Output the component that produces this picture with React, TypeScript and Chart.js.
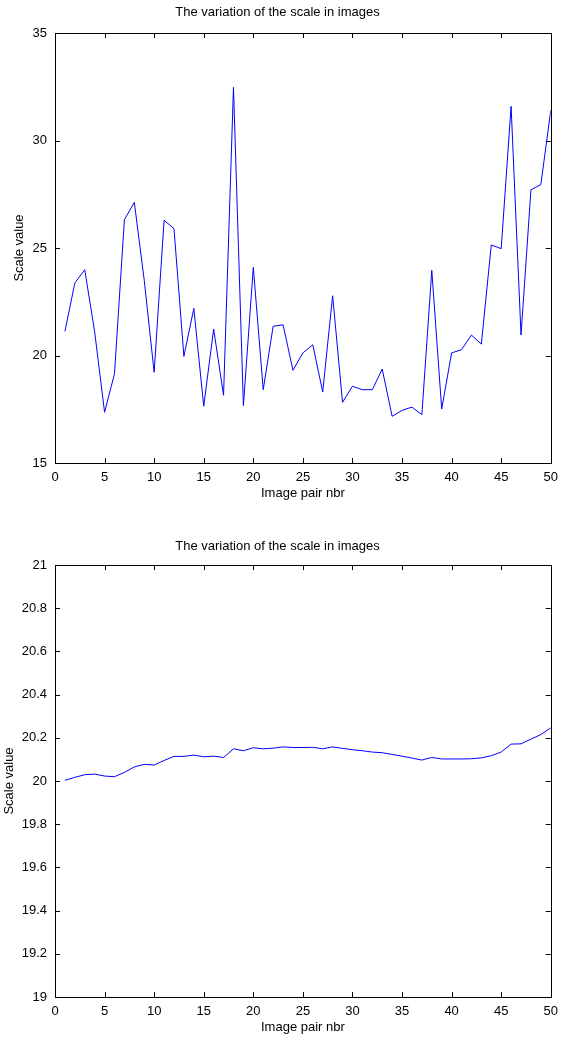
import React, { useEffect, useRef } from "react";
import { Chart, registerables } from "chart.js";

Chart.register(...registerables);

const chartTitle = "The variation of the scale in images";
const xTitle = "Image pair nbr";
const yTitle = "Scale value";

const imagePairs = [
  1, 2, 3, 4, 5, 6, 7, 8, 9, 10, 11, 12, 13, 14, 15, 16, 17, 18, 19, 20, 21, 22, 23, 24, 25,
  26, 27, 28, 29, 30, 31, 32, 33, 34, 35, 36, 37, 38, 39, 40, 41, 42, 43, 44, 45, 46, 47, 48, 49, 50,
];

const scaleValuesTop = [
  21.12, 23.37, 23.99, 21.1, 17.36, 19.15, 26.32, 27.12, 23.5, 19.22,
  26.29, 25.9, 19.96, 22.19, 17.64, 21.23, 18.15, 32.47, 17.67, 24.1,
  18.41, 21.36, 21.43, 19.31, 20.12, 20.5, 18.3, 22.78, 17.82, 18.57,
  18.41, 18.41, 19.37, 17.17, 17.45, 17.6, 17.25, 23.96, 17.51, 20.12,
  20.27, 20.95, 20.53, 25.14, 24.97, 31.59, 20.95, 27.71, 27.95, 31.4,
];

const scaleValuesBottom = [
  20.003, 20.017, 20.029, 20.032, 20.023, 20.02, 20.04, 20.065, 20.077, 20.074,
  20.095, 20.114, 20.114, 20.12, 20.112, 20.115, 20.109, 20.149, 20.14, 20.154,
  20.149, 20.152, 20.158, 20.155, 20.155, 20.156, 20.149, 20.158, 20.151, 20.145,
  20.14, 20.134, 20.131, 20.123, 20.115, 20.106, 20.097, 20.109, 20.102, 20.102,
  20.102, 20.103, 20.107, 20.117, 20.134, 20.171, 20.172, 20.194, 20.215, 20.246,
];

const xTicksRange = { min: 0, max: 50, step: 5 };
const yRangeTop = { min: 15, max: 35, step: 5 };
const yRangeBottom = { min: 19, max: 21, step: 0.2 };

const FONT = "'Liberation Sans', Arial, Helvetica, sans-serif";

const frameTicksPlugin = {
  id: "frameTicks",
  afterDatasetsDraw(chart: any) {
    const { ctx, chartArea } = chart;
    const { left, right, top, bottom } = chartArea;
    const len = 5;
    ctx.save();
    ctx.strokeStyle = "#000";
    ctx.lineWidth = 1;
    ctx.beginPath();
    const xs = chart.scales.x;
    xs.ticks.forEach((t: any) => {
      const px = Math.round(xs.getPixelForValue(t.value)) + 0.5;
      ctx.moveTo(px, bottom);
      ctx.lineTo(px, bottom - len);
      ctx.moveTo(px, top);
      ctx.lineTo(px, top + len);
    });
    const ys = chart.scales.y;
    ys.ticks.forEach((t: any) => {
      const py = Math.round(ys.getPixelForValue(t.value)) + 0.5;
      ctx.moveTo(left, py);
      ctx.lineTo(left + len, py);
      ctx.moveTo(right, py);
      ctx.lineTo(right - len, py);
    });
    ctx.stroke();
    ctx.strokeRect(Math.round(left) + 0.5, Math.round(top) + 0.5, Math.round(right - left), Math.round(bottom - top));
    ctx.restore();
  },
};

type PanelProps = {
  values: number[];
  yRange: { min: number; max: number; step: number };
  titlePadTop: number;
  titlePadBottom: number;
  xAxisHeight: number;
  xTitlePadBottom: number;
  yTitlePad: number;
};

function Panel(props: PanelProps) {
  const ref = useRef<HTMLCanvasElement | null>(null);
  useEffect(() => {
    if (!ref.current) return;
    const chart = new Chart(ref.current, {
      type: "line",
      data: {
        datasets: [
          {
            data: imagePairs.map((x, i) => ({ x, y: props.values[i] })),
            borderColor: "#0000ff",
            borderWidth: 1,
            pointRadius: 0,
            tension: 0,
            fill: false,
          },
        ],
      },
      options: {
        responsive: false,
        animation: false,
        devicePixelRatio: 1,
        layout: { padding: { left: 0, right: 10, top: 0, bottom: 0 } },
        plugins: {
          legend: { display: false },
          tooltip: { enabled: false },
          title: {
            display: true,
            text: chartTitle,
            color: "#000",
            font: { family: FONT, size: 13, weight: "normal" },
            padding: { top: props.titlePadTop, bottom: props.titlePadBottom },
          },
        },
        scales: {
          x: {
            type: "linear",
            min: xTicksRange.min,
            max: xTicksRange.max,
            grid: { display: false, drawTicks: false },
            border: { display: false },
            ticks: {
              stepSize: xTicksRange.step,
              color: "#000",
              padding: 7,
              maxRotation: 0,
              font: { family: FONT, size: 13 },
            },
            title: {
              display: true,
              text: xTitle,
              color: "#000",
              font: { family: FONT, size: 13 },
              padding: { top: 0, bottom: props.xTitlePadBottom },
            },
            afterFit: (s: any) => {
              s.height = props.xAxisHeight;
            },
          },
          y: {
            type: "linear",
            min: props.yRange.min,
            max: props.yRange.max,
            grid: { display: false, drawTicks: false },
            border: { display: false },
            ticks: {
              stepSize: props.yRange.step,
              color: "#000",
              padding: 8,
              font: { family: FONT, size: 13 },
              callback: (v: any) => String(Math.round(Number(v) * 10) / 10),
            },
            title: {
              display: true,
              text: yTitle,
              color: "#000",
              font: { family: FONT, size: 13 },
              padding: { top: props.yTitlePad, bottom: 0 },
            },
            afterFit: (s: any) => {
              s.width = 55;
            },
          },
        },
      },
      plugins: [frameTicksPlugin],
    } as any);
    return () => chart.destroy();
  }, []);
  return <canvas ref={ref} width={565} height={522} style={{ display: "block" }} />;
}

export default function App() {
  return (
    <div style={{ position: "absolute", left: 0, top: 0, width: 565, height: 1044, background: "#fff" }}>
      <Panel
        values={scaleValuesTop}
        yRange={yRangeTop}
        titlePadTop={5}
        titlePadBottom={12.4}
        xAxisHeight={59}
        xTitlePadBottom={21}
        yTitlePad={12}
      />
      <Panel
        values={scaleValuesBottom}
        yRange={yRangeBottom}
        titlePadTop={17}
        titlePadBottom={10.4}
        xAxisHeight={47}
        xTitlePadBottom={9}
        yTitlePad={2}
      />
    </div>
  );
}
